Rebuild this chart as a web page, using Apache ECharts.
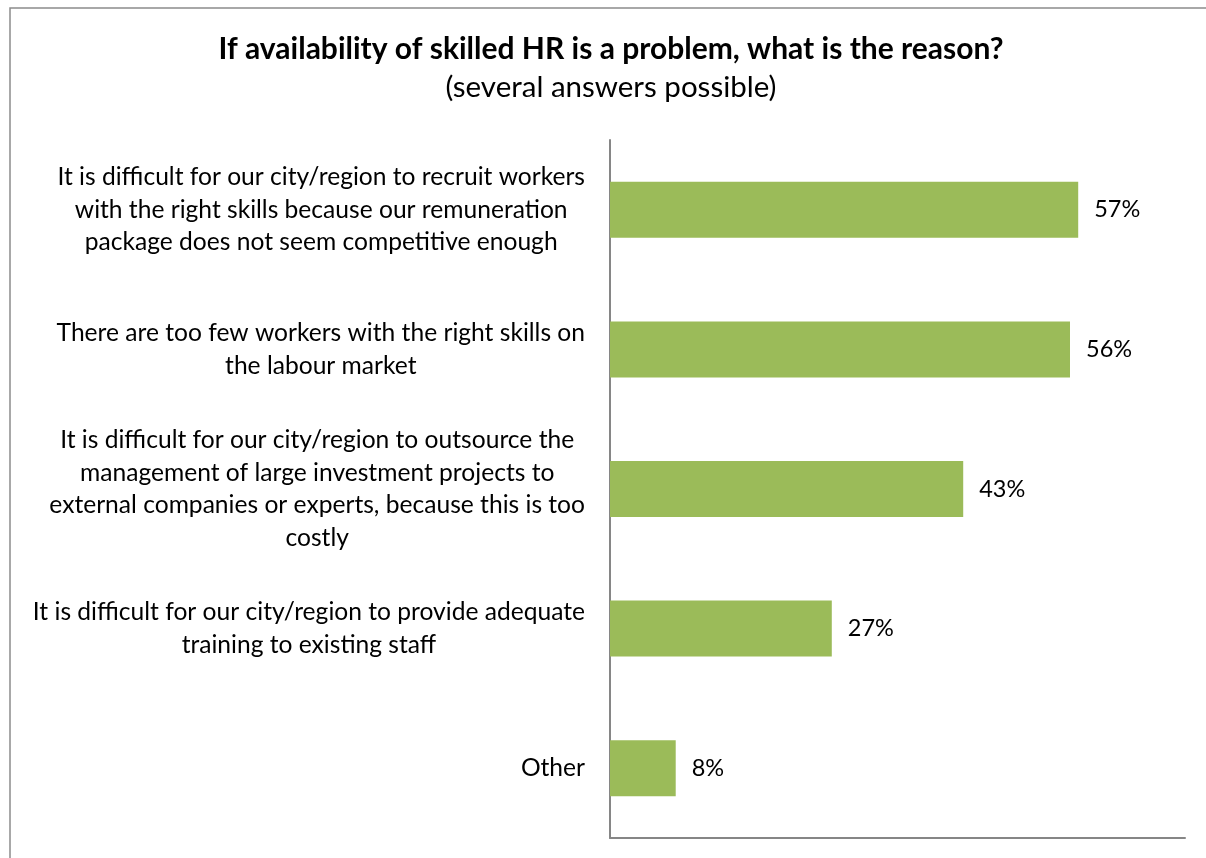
<!DOCTYPE html>
<html>
<head>
<meta charset="utf-8">
<title>Skilled HR availability</title>
<script src="https://cdn.jsdelivr.net/npm/echarts@6/dist/echarts.min.js"></script>
<style>
  html, body { margin: 0; padding: 0; background: #ffffff; }
  #chart { width: 1206px; height: 858px; }
</style>
</head>
<body>
<div id="chart"></div>
<script>
// Reasons given, top to bottom, with manual line breaks
const reasons = [
  'It is difficult for our city/region to recruit workers\nwith the right skills because our remuneration\npackage does not seem competitive enough',
  'There are too few workers with the right skills on\nthe labour market',
  'It is difficult for our city/region to outsource the\nmanagement of large investment projects to\nexternal companies or experts, because this is too\ncostly',
  'It is difficult for our city/region to provide adequate\ntraining to existing staff',
  'Other'
];
// Share of respondents (%)
const shares = [57, 56, 43, 27, 8];

const titleText = 'If availability of skilled HR is a problem, what is the reason?';
const subtitleText = '(several answers possible)';

const FONT = 'Lato, "Open Sans", sans-serif';
const AXIS_GREY = '#868686';

const chart = echarts.init(document.getElementById('chart'), null, { renderer: 'canvas' });

chart.setOption({
  backgroundColor: '#ffffff',
  animation: false,
  title: {
    text: titleText,
    subtext: subtitleText,
    left: 611,
    top: 31,
    textAlign: 'center',
    itemGap: 2,
    padding: 0,
    textStyle: {
      fontFamily: FONT,
      fontWeight: 'bold',
      fontSize: 30,
      lineHeight: 36,
      color: '#000000'
    },
    subtextStyle: {
      fontFamily: FONT,
      fontWeight: 'normal',
      fontSize: 29.5,
      lineHeight: 36,
      color: '#000000'
    }
  },
  graphic: [{
    // frame around the chart area
    type: 'rect',
    z: -10,
    silent: true,
    shape: { x: 10, y: 8, width: 1400, height: 1000 },
    style: { fill: 'none', stroke: '#8c8c8c', lineWidth: 1.5 }
  }],
  grid: {
    left: 610,
    right: 21,
    top: 140,
    bottom: 20,
    containLabel: false
  },
  xAxis: {
    type: 'value',
    min: 0,
    max: 70,
    axisLine: { show: true, lineStyle: { color: AXIS_GREY, width: 2 } },
    axisTick: { show: false },
    axisLabel: { show: false },
    splitLine: { show: false }
  },
  yAxis: {
    type: 'category',
    inverse: true,
    data: reasons,
    axisLine: { show: true, lineStyle: { color: AXIS_GREY, width: 2 } },
    axisTick: { show: false },
    axisLabel: {
      margin: 25,
      align: 'right',
      formatter: function (v) {
        return v.split('\n').map(function (line) { return '{c|' + line + '}'; }).join('\n');
      },
      rich: {
        c: {
          align: 'center',
          fontFamily: FONT,
          fontSize: 24.6,
          lineHeight: 32.5,
          color: '#000000'
        }
      }
    }
  },
  series: [{
    type: 'bar',
    data: shares,
    barWidth: 56,
    itemStyle: { color: '#9bbb59' },
    label: {
      show: true,
      position: 'right',
      distance: 16,
      formatter: '{c}%',
      fontFamily: FONT,
      fontSize: 23.5,
      color: '#000000'
    }
  }]
});
</script>
</body>
</html>
